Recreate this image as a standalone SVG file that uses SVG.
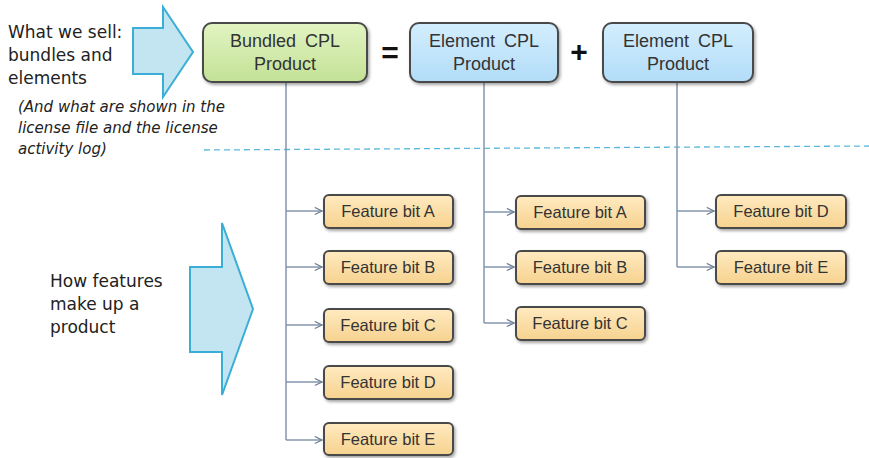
<svg xmlns="http://www.w3.org/2000/svg" width="869" height="458" viewBox="0 0 869 458">
<style>
.note{font-family:"DejaVu Sans",sans-serif;font-size:17px;fill:#222}
.small{font-family:"DejaVu Sans",sans-serif;font-size:15px;font-style:oblique;fill:#222}
.big{font-family:"Liberation Sans",Arial,sans-serif;font-size:18px;fill:#333;text-anchor:middle;word-spacing:4px}
.ft{font-family:"Liberation Sans",Arial,sans-serif;font-size:16.5px;fill:#333;text-anchor:middle}
.box{stroke:#4a4a4a;stroke-width:2}
.conn{fill:none;stroke:#8496ad;stroke-width:1.5}
.barrow{fill:#c3e5f2;stroke:#3aaed6;stroke-width:2}
.op{font-family:"Liberation Sans",Arial,sans-serif;font-size:30px;font-weight:bold;fill:#111;text-anchor:middle}
</style>
<defs>
<linearGradient id="gG" x1="0" y1="0" x2="0" y2="1"><stop offset="0" stop-color="#e2f4c2"/><stop offset="1" stop-color="#c3e196"/></linearGradient>
<linearGradient id="gB" x1="0" y1="0" x2="0" y2="1"><stop offset="0" stop-color="#d3eefd"/><stop offset="1" stop-color="#b2dcf8"/></linearGradient>
<linearGradient id="gF" x1="0" y1="0" x2="0" y2="1"><stop offset="0" stop-color="#ffeac0"/><stop offset="1" stop-color="#f6d28e"/></linearGradient>
<filter id="sh" x="-10%" y="-20%" width="130%" height="160%"><feDropShadow dx="1.5" dy="2" stdDeviation="1.5" flood-color="#000" flood-opacity="0.35"/></filter>
<marker id="ah" viewBox="0 0 10 10" refX="9" refY="5" markerWidth="9" markerHeight="9" markerUnits="userSpaceOnUse" orient="auto"><path d="M1,1 L9,5 L1,9" fill="none" stroke="#6d7f96" stroke-width="1.3"/></marker>
</defs>

<g id="labels">
<text class="note" x="8" y="38">What we sell:</text>
<text class="note" x="8" y="61">bundles and</text>
<text class="note" x="8" y="84">elements</text>
<text class="small" x="18" y="112">(And what are shown in the</text>
<text class="small" x="18" y="133">license file and the license</text>
<text class="small" x="18" y="154">activity log)</text>
<text class="note" x="50" y="287">How features</text>
<text class="note" x="50" y="310">make up a</text>
<text class="note" x="50" y="333">product</text>
</g>

<g id="block-arrows">
<path class="barrow" d="M133,28 L163,28 L163,7 L193,52 L163,97 L163,74 L133,74 Z"/>
<path class="barrow" d="M190,267 L222,267 L222,223 L253,309 L222,395 L222,352 L190,352 Z"/>
</g>

<line id="divider" x1="204" y1="150" x2="869" y2="146" stroke="#5ab8dc" stroke-width="1.3" stroke-dasharray="6,4"/>

<g id="connectors">
<path class="conn" d="M286,82 V440"/>
<path class="conn" d="M286,211 H322" marker-end="url(#ah)"/>
<path class="conn" d="M286,267 H322" marker-end="url(#ah)"/>
<path class="conn" d="M286,325 H322" marker-end="url(#ah)"/>
<path class="conn" d="M286,382 H322" marker-end="url(#ah)"/>
<path class="conn" d="M286,440 H322" marker-end="url(#ah)"/>
<path class="conn" d="M484,82 V323"/>
<path class="conn" d="M484,212 H514" marker-end="url(#ah)"/>
<path class="conn" d="M484,267 H514" marker-end="url(#ah)"/>
<path class="conn" d="M484,323 H514" marker-end="url(#ah)"/>
<path class="conn" d="M677,82 V267"/>
<path class="conn" d="M677,211 H714" marker-end="url(#ah)"/>
<path class="conn" d="M677,267 H714" marker-end="url(#ah)"/>
</g>

<g id="bundled">
<rect class="box" x="203" y="23" width="164" height="59" rx="9" fill="url(#gG)" filter="url(#sh)"/>
<text class="big" x="285" y="47">Bundled CPL</text>
<text class="big" x="285" y="70">Product</text>
</g>
<text class="op" x="390" y="63">=</text>
<g id="element1">
<rect class="box" x="410" y="23" width="148" height="59" rx="9" fill="url(#gB)" filter="url(#sh)"/>
<text class="big" x="484" y="47">Element CPL</text>
<text class="big" x="484" y="70">Product</text>
</g>
<text class="op" x="579" y="62">+</text>
<g id="element2">
<rect class="box" x="603" y="23" width="150" height="59" rx="9" fill="url(#gB)" filter="url(#sh)"/>
<text class="big" x="678" y="47">Element CPL</text>
<text class="big" x="678" y="70">Product</text>
</g>

<g id="b-feat-a"><rect class="box" x="324" y="195" width="129" height="33" rx="5" fill="url(#gF)" filter="url(#sh)"/><text class="ft" x="388" y="217">Feature bit A</text></g>
<g id="b-feat-b"><rect class="box" x="324" y="251" width="129" height="33" rx="5" fill="url(#gF)" filter="url(#sh)"/><text class="ft" x="388" y="273">Feature bit B</text></g>
<g id="b-feat-c"><rect class="box" x="324" y="309" width="129" height="33" rx="5" fill="url(#gF)" filter="url(#sh)"/><text class="ft" x="388" y="331">Feature bit C</text></g>
<g id="b-feat-d"><rect class="box" x="324" y="366" width="129" height="33" rx="5" fill="url(#gF)" filter="url(#sh)"/><text class="ft" x="388" y="388">Feature bit D</text></g>
<g id="b-feat-e"><rect class="box" x="324" y="423" width="129" height="32" rx="5" fill="url(#gF)" filter="url(#sh)"/><text class="ft" x="388" y="445">Feature bit E</text></g>

<g id="e1-feat-a"><rect class="box" x="516" y="196" width="129" height="33" rx="5" fill="url(#gF)" filter="url(#sh)"/><text class="ft" x="580" y="218">Feature bit A</text></g>
<g id="e1-feat-b"><rect class="box" x="516" y="251" width="129" height="33" rx="5" fill="url(#gF)" filter="url(#sh)"/><text class="ft" x="580" y="273">Feature bit B</text></g>
<g id="e1-feat-c"><rect class="box" x="516" y="307" width="129" height="33" rx="5" fill="url(#gF)" filter="url(#sh)"/><text class="ft" x="580" y="329">Feature bit C</text></g>

<g id="e2-feat-d"><rect class="box" x="716" y="195" width="130" height="33" rx="5" fill="url(#gF)" filter="url(#sh)"/><text class="ft" x="781" y="217">Feature bit D</text></g>
<g id="e2-feat-e"><rect class="box" x="716" y="251" width="130" height="33" rx="5" fill="url(#gF)" filter="url(#sh)"/><text class="ft" x="781" y="273">Feature bit E</text></g>
</svg>
